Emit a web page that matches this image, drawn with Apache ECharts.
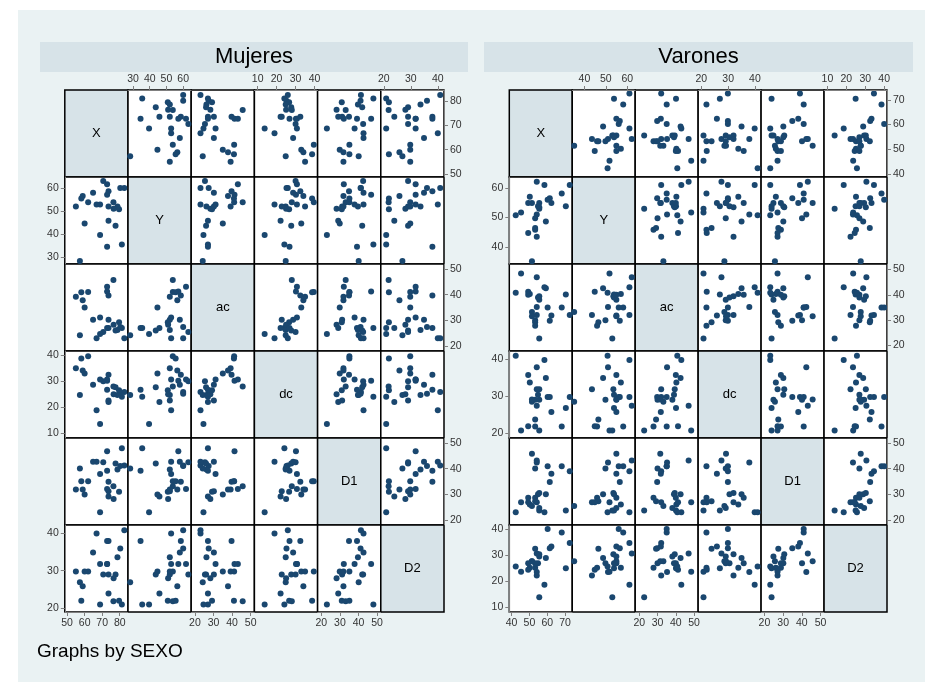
<!DOCTYPE html>
<html>
<head>
<meta charset="utf-8">
<script src="https://cdn.jsdelivr.net/npm/echarts@6/dist/echarts.min.js"></script>
<style>
  html, body { margin: 0; padding: 0; background: #fff; }
  #bg { position: absolute; left: 18px; top: 10px; width: 907px; height: 672px; background: #eaf2f3; }
  #chart { position: absolute; left: 0; top: 0; width: 931px; height: 682px; }
</style>
</head>
<body>
<div id="bg"></div>
<div id="chart"></div>
<script>
// variable names (diagonal labels) and by-groups
const varNames = ['X', 'Y', 'ac', 'dc', 'D1', 'D2'];
const groupNames = ['Mujeres', 'Varones'];

// Mujeres
const mujX  = [82.6, 81.2, 80.3, 79.6, 78.7, 77.6, 76.5, 76.4, 73.6, 73.6, 73.6, 72.8, 72.8, 72.8, 70.6, 68.8, 68.8, 66.8, 64.8, 62.0, 60.0, 58.9, 58.1, 57.3, 55.0];
const mujY  = [60.0, 35.5, 60.0, 50.8, 52.0, 43.6, 51.0, 53.8, 45.8, 52.0, 58.6, 34.5, 57.1, 61.7, 63.1, 39.6, 52.8, 52.8, 58.0, 53.8, 44.6, 56.5, 55.5, 28.3, 52.0];
const mujAc = [23.0, 27.0, 27.4, 29.2, 26.2, 26.0, 28.3, 45.7, 27.0, 30.2, 39.7, 27.0, 41.3, 43.1, 25.4, 24.6, 31.1, 23.0, 30.2, 41.1, 35.0, 37.8, 41.0, 24.2, 39.2];
const mujDc = [25.9, 24.1, 25.2, 26.6, 24.8, 27.7, 25.0, 28.0, 22.1, 22.7, 32.5, 26.8, 30.2, 30.7, 30.0, 13.7, 30.7, 18.9, 28.7, 39.6, 33.0, 34.1, 38.7, 24.8, 35.0];
const mujD1 = [41.3, 48.0, 41.1, 31.0, 39.7, 42.0, 28.2, 33.1, 29.1, 31.2, 34.9, 39.2, 46.8, 32.1, 42.5, 23.0, 37.9, 42.7, 42.7, 35.1, 29.9, 31.9, 35.1, 40.1, 31.9];
const mujD2 = [40.9, 20.9, 36.0, 21.9, 33.6, 29.0, 28.0, 21.8, 23.9, 29.0, 38.0, 38.0, 31.8, 31.8, 29.0, 20.9, 31.8, 40.0, 34.9, 29.8, 29.8, 25.8, 21.9, 26.9, 29.8];

// Varones
const varX  = [72.6, 70.4, 68.1, 62.3, 61.4, 60.2, 59.2, 58.4, 55.5, 55.5, 55.5, 54.8, 54.1, 54.1, 54.1, 53.2, 53.2, 53.2, 51.4, 51.4, 50.2, 49.3, 49.3, 45.3, 42.3];
const varY  = [61.0, 53.8, 58.1, 54.9, 56.5, 56.0, 48.7, 61.0, 53.0, 54.9, 53.5, 53.8, 43.5, 51.0, 62.1, 45.9, 46.5, 49.8, 35.2, 54.9, 57.0, 44.8, 54.9, 51.7, 50.8];
const varAc = [32.0, 40.1, 35.0, 31.8, 29.8, 35.0, 42.6, 43.0, 22.7, 38.1, 39.4, 39.0, 32.0, 35.2, 47.0, 27.8, 29.2, 30.0, 33.2, 31.5, 40.3, 41.2, 40.0, 48.4, 40.8];
const varDc = [29.9, 26.9, 21.9, 25.8, 29.9, 29.9, 35.0, 39.9, 20.8, 29.1, 32.0, 30.5, 32.0, 37.9, 27.5, 21.9, 23.8, 29.1, 28.6, 29.2, 33.8, 22.0, 35.8, 20.8, 41.0];
const varD1 = [39.0, 23.8, 41.0, 38.1, 34.9, 41.0, 30.1, 23.1, 23.8, 24.8, 30.6, 30.1, 27.0, 42.4, 43.2, 28.8, 27.4, 40.1, 25.6, 45.8, 26.1, 27.0, 28.8, 27.0, 23.1];
const varD2 = [34.6, 24.9, 38.6, 33.3, 32.6, 40.0, 28.9, 18.6, 13.8, 29.4, 30.3, 26.9, 22.2, 23.5, 30.6, 25.1, 32.4, 26.9, 27.6, 27.6, 25.1, 24.4, 26.9, 23.6, 25.6];

// tick labels per variable
const mujTicks = [[50, 60, 70, 80], [30, 40, 50, 60], [20, 30, 40, 50], [10, 20, 30, 40], [20, 30, 40, 50], [20, 30, 40]];
const varTicks = [[40, 50, 60, 70], [40, 50, 60], [20, 30, 40, 50], [20, 30, 40], [20, 30, 40, 50], [10, 20, 30, 40]];

// scale ranges per variable
const mujMin = [48.7, 27.0, 18.0, 8.3, 18.0, 18.9];
const mujMax = [84.7, 64.8, 52.0, 41.6, 52.0, 42.3];
const varMin = [38.7, 34.3, 17.8, 18.8, 18.2, 8.2];
const varMax = [74.0, 63.7, 52.2, 42.3, 51.9, 41.5];

const FONT = 'Liberation Sans, Arial, sans-serif';
const cellTop = 90, cellH = 87;

const panels = [
  { cols: [mujX, mujY, mujAc, mujDc, mujD1, mujD2], min: mujMin, max: mujMax, ticks: mujTicks,
    left: 64.8, cellW: 63.2, barX: 40, barW: 428 },
  { cols: [varX, varY, varAc, varDc, varD1, varD2], min: varMin, max: varMax, ticks: varTicks,
    left: 509.3, cellW: 62.95, barX: 484, barW: 429 }
];

// axis helper: show ticks + labels only on the outer side where the matrix puts them
function axis(idx, min, max, show, position, ticks) {
  return {
    type: 'value', gridIndex: idx, min: min, max: max, position: position, z: 5,
    axisLine: { show: show, lineStyle: { color: '#808080', width: 1 } },
    axisTick: { show: show, length: 4, customValues: ticks, lineStyle: { color: '#808080' } },
    axisLabel: { show: show, customValues: ticks, fontSize: 10.5, color: '#333',
      margin: position === 'top' ? 5 : 6, fontFamily: FONT },
    splitLine: { show: false }
  };
}

const grid = [], xAxis = [], yAxis = [], series = [], graphic = [];
let k = 0;

panels.forEach((p, pi) => {
  // by-group title band
  graphic.push({ type: 'rect', z: 1, shape: { x: p.barX, y: 42, width: p.barW, height: 30 }, style: { fill: '#d7e3e8' } });
  graphic.push({ type: 'text', z: 2, x: p.barX + p.barW / 2, y: 57,
    style: { text: groupNames[pi], fontSize: 22, fontFamily: FONT, fill: '#000', align: 'center', verticalAlign: 'middle' } });

  for (let i = 0; i < 6; i++) {
    for (let j = 0; j < 6; j++) {
      const diag = i === j;
      grid.push({
        left: p.left + j * p.cellW, top: cellTop + i * cellH, width: p.cellW, height: cellH,
        show: true, backgroundColor: diag ? '#d7e3e8' : '#fff', borderColor: '#000', borderWidth: 1.5
      });
      const showTop = !diag && i === 0 && j % 2 === 1;
      const showBottom = !diag && i === 5 && j % 2 === 0;
      const showRight = !diag && j === 5 && i % 2 === 0;
      const showLeft = !diag && j === 0 && i % 2 === 1;
      xAxis.push(axis(k, p.min[j], p.max[j], showTop || showBottom, showTop ? 'top' : 'bottom', p.ticks[j]));
      yAxis.push(axis(k, p.min[i], p.max[i], showLeft || showRight, showRight ? 'right' : 'left', p.ticks[i]));
      if (diag) {
        graphic.push({ type: 'text', z: 100,
          x: p.left + (j + 0.5) * p.cellW, y: cellTop + (i + 0.5) * cellH,
          style: { text: varNames[i], fontSize: 13, fontFamily: FONT, fill: '#000', align: 'center', verticalAlign: 'middle' } });
      } else {
        const xs = p.cols[j], ys = p.cols[i];
        series.push({
          type: 'scatter', xAxisIndex: k, yAxisIndex: k, silent: true,
          symbol: 'circle', symbolSize: 6,
          itemStyle: { color: '#1a476f', opacity: 1 },
          data: xs.map((v, n) => [v, ys[n]])
        });
      }
      k++;
    }
  }
});

graphic.push({ type: 'text', z: 2, x: 37, y: 652,
  style: { text: 'Graphs by SEXO', fontSize: 19, fontFamily: FONT, fill: '#000', align: 'left', verticalAlign: 'middle' } });

const chart = echarts.init(document.getElementById('chart'));
chart.setOption({
  backgroundColor: 'transparent',
  animation: false,
  grid: grid,
  xAxis: xAxis,
  yAxis: yAxis,
  series: series,
  graphic: graphic
});
</script>
</body>
</html>
